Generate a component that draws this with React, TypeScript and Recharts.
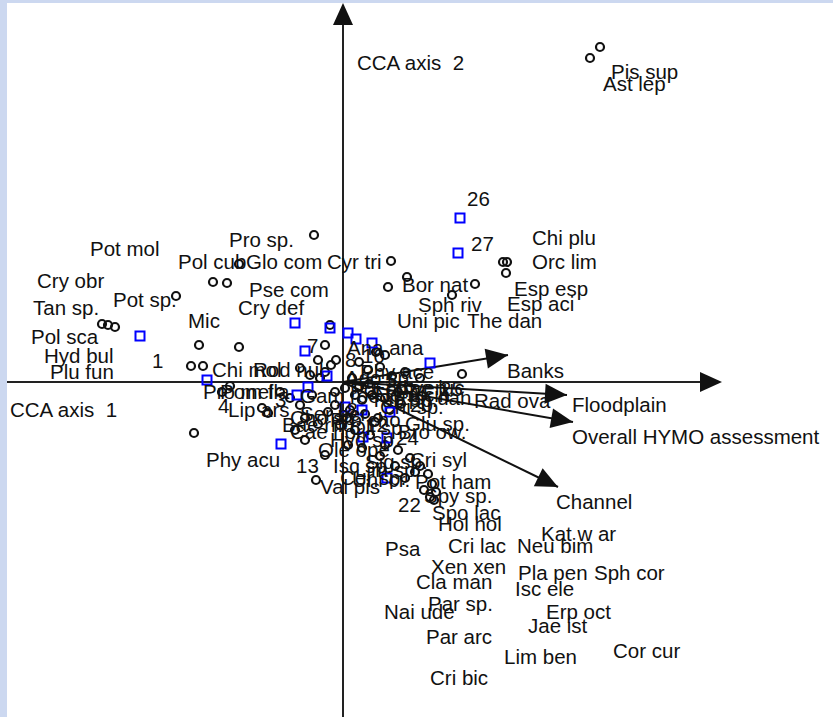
import React from "react";
import { ScatterChart, Scatter, XAxis, YAxis, ReferenceLine } from "recharts";

// Environmental variable arrows (CCA biplot scores)
const envNames = ["Banks", "Floodplain", "Overall HYMO assessment", "Channel"];
const envX = [1.65, 2.24, 2.3, 2.15];
const envY = [0.27, -0.13, -0.4, -1.05];
const envLabelX = [1.64, 2.29, 2.29, 2.13];
const envLabelY = [0.11, -0.23, -0.55, -1.2];

// Axis extents
const axis1 = { from: -3.36, to: 3.79 };
const axis2 = { from: -3.35, to: 3.79 };
const axisTitles = ["CCA axis  1", "CCA axis  2"];
const axisTitleX = [-3.33, 0.14];
const axisTitleY = [-0.28, 3.19];

// Species labels
const speciesNames = [
  "Pis sup", "Ast lep", "Chi plu", "Orc lim", "Esp esp", "Esp aci", "Bor nat", "Sph riv",
  "Uni pic", "The dan", "Pro sp.", "Pot mol", "Pol cub", "Glo com", "Cyr tri", "Cry obr",
  "Pse com", "Tan sp.", "Pot sp.", "Cry def", "Mic", "Pol sca", "Hyd bul", "Plu fun",
  "Chi mol", "Rod nul", "Pro mel", "Pom fla", "Lip ars", "Phy acu", "Val pis", "Psa",
  "Cri syl", "Pot ham", "Spy sp.", "Spo lac", "Hol hol", "Cri lac", "Neu bim", "Kat w ar",
  "Xen xen", "Pla pen", "Sph cor", "Cla man", "Isc ele", "Par sp.", "Nai ude", "Erp oct",
  "Jae ist", "Par arc", "Lim ben", "Cor cur", "Cri bic", "Rad ova", "Chi sp.", "Ana ana",
  "Phy ace", "Ole ope", "Isc sp.", "Glu sp.", "Bro ow.", "Pot ant", "Ecd ven", "Ser per",
  "Cae hor", "Bae rho", "Lim sp.", "Uni cr.", "Gam roe", "Eph dan", "Cho sp.", "Hyd sp.",
  "Ago sp.", "Nem cin", "Cae luc", "Pro cho", "Oli sp.", "Sig sp.", "Cer sp.", "Tub sp.",
];
const speciesLabelX = [
  2.68, 2.6, 1.89, 1.89, 1.71, 1.64, 0.59, 0.75,
  0.54, 1.24, -1.14, -2.53, -1.65, -0.97, -0.16, -3.06,
  -0.94, -3.1, -2.3, -1.05, -1.55, -3.12, -2.99, -2.93,
  -1.31, -0.9, -1.4, -1.23, -1.15, -1.37, -0.23, 0.42,
  0.67, 0.72, 0.81, 0.89, 0.95, 1.05, 1.74, 1.98,
  0.88, 1.75, 2.51, 0.73, 1.72, 0.85, 0.41, 2.03,
  1.85, 0.83, 1.61, 2.7, 0.87, 1.31, 0.37, 0.04,
  0.17, -0.25, -0.1, 0.62, 0.55, 0.07, 0.29, -0.43,
  -0.53, -0.61, 0.12, 0.09, -0.43, 0.52, -0.53, -0.13,
  0.02, 0.32, 0.52, -0.13, 0.07, 0.22, -0.03, 0.27,
];
const speciesLabelY = [
  3.1, 2.98, 1.44, 1.2, 0.93, 0.78, 0.97, 0.77,
  0.61, 0.61, 1.42, 1.33, 1.2, 1.2, 1.2, 1.01,
  0.92, 0.74, 0.82, 0.74, 0.61, 0.45, 0.26, 0.1,
  0.12, 0.12, -0.1, -0.1, -0.28, -0.78, -1.05, -1.67,
  -0.78, -1.0, -1.14, -1.31, -1.42, -1.64, -1.64, -1.52,
  -1.85, -1.91, -1.91, -2.0, -2.07, -2.22, -2.3, -2.3,
  -2.44, -2.55, -2.75, -2.69, -2.96, -0.19, -0.25, 0.34,
  0.1, -0.68, -0.84, -0.42, -0.5, -0.08, -0.06, -0.32,
  -0.5, -0.43, -0.88, -0.98, -0.14, -0.16, -0.36, -0.58,
  0.04, -0.13, -0.06, -0.38, -0.46, -0.8, -0.96, -0.18,
];

// Species points (open circles)
const speciesX = [
  2.47, 2.57, 1.6, 1.64, 1.63, 0.64, 0.45, 1.32, 1.09, 0.48, -0.29, -1.04, -1.3, -1.16,
  -1.67, -2.41, -2.35, -2.28, -1.44, -1.04, -1.52, -1.4, -1.49, -0.13, 1.19, -0.27,
  0.16, 0.33, 0.25, 0.37, 0.49, 0.62, 0.77, -0.08, 0.02, 0.12, 0.19, 0.29, 0.42, 0.55,
  0.67, 0.79, 0.07, 0.22, 0.35, 0.47, -0.03, 0.12, 0.27, 0.42, 0.55, 0.67, 0.77, 0.85,
  0.89, 0.93, 0.87, 0.72, 0.62, 0.52, 0.37, 0.19, 0.05, -0.63, -0.53, -0.43, -0.81,
  -0.75, -0.33, -0.23, -0.43, -0.25, -0.18, -1.13, -1.21, -0.48, -0.38, -0.18, -0.38,
  -0.25, -0.15, -0.31, -0.08, 0.09, -0.07, 0.42, -0.18, -0.12,
  0.32, 0.58, 0.04, 0.16, 0.26, 0.81, 0.91,
];
const speciesY = [
  3.24, 3.35, 1.2, 1.2, 1.09, 1.05, 0.95, 0.98, 0.87, 1.21, 1.47, 1.18, 1.0, 0.99,
  0.86, 0.58, 0.57, 0.55, 0.37, 0.35, 0.16, 0.16, -0.51, 0.57, 0.08, -0.98,
  0.2, 0.3, 0.12, 0.15, 0.06, 0.1, 0.04, -0.1, -0.06, -0.13, -0.18, -0.13, -0.16, -0.1,
  -0.06, -0.14, -0.28, -0.32, -0.36, -0.28, -0.43, -0.48, -0.53, -0.63, -0.68, -0.76, -0.84, -0.92,
  -1.02, -1.1, -1.15, -0.9, -0.96, -0.84, -0.74, -0.66, -0.63, -0.1, -0.16, -0.23, -0.26,
  -0.31, 0.07, 0.04, 0.14, 0.22, 0.1, -0.04, -0.1, -0.48, -0.58, -0.73, -0.36,
  -0.42, -0.3, -0.13, -0.23, 0.04, 0.22, 0.27, 0.37, 0.17,
  -0.4, -0.22, -0.36, -0.05, -0.02, -1.08, -1.18,
];

// Sites (open squares)
const siteX = [
  -2.03, -1.36, -0.48, -0.13, 0.05, 0.13, 0.29, -0.38, -0.16, -0.35, -0.46, -0.62,
  0.2, 0.02, 0.19, 0.87, 0.47, 0.44, 0.44, 1.17, 1.15,
];
const siteY = [
  0.46, 0.02, 0.59, 0.54, 0.49, 0.43, 0.39, 0.31, 0.06, -0.05, -0.13, -0.62,
  -0.55, -0.25, -0.28, 0.19, -0.3, -0.56, -0.96, 1.64, 1.29,
];
const siteLabels = ["1", "4", "7", "10", "13", "22", "24", "25", "26", "27", "3", "5", "8", "12", "18", "20"];
const siteLabelX = [-1.91, -1.25, -0.36, 0.19, -0.47, 0.55, 0.53, 0.97, 1.24, 1.28, -0.68, 0.42, 0.02, 0.22, -0.08, 0.67];
const siteLabelY = [0.21, -0.24, 0.36, 0.26, -0.84, -1.23, -0.56, -0.07, 1.83, 1.38, -0.18, 0.02, 0.22, -0.43, -0.28, -0.23];

const FONT = "'Liberation Sans', Arial, sans-serif";
const FS = 20.5;
const TXT = "#111111";

const speciesLabelData = speciesNames.map((n, i) => ({ name: n, x: speciesLabelX[i], y: speciesLabelY[i] }));
const speciesData = speciesX.map((x, i) => ({ x, y: speciesY[i] }));
const siteData = siteX.map((x, i) => ({ x, y: siteY[i] }));
const siteLabelData = siteLabels.map((n, i) => ({ name: n, x: siteLabelX[i], y: siteLabelY[i] }));
const envTipData = envNames.map((n, i) => ({ name: n, x: envX[i], y: envY[i] }));
const envLabelData = envNames.map((n, i) => ({ name: n, x: envLabelX[i], y: envLabelY[i] }));
const axisTipData = [
  { x: axis1.to, y: 0 },
  { x: 0, y: axis2.to },
];
const axisTitleData = axisTitles.map((n, i) => ({ name: n, x: axisTitleX[i], y: axisTitleY[i] }));

const TextShape = (props: any) => {
  const { cx, cy, payload } = props;
  return (
    <text x={cx} y={cy} dy="0.36em" textAnchor="start" fontFamily={FONT} fontSize={FS} fill={TXT} style={{ whiteSpace: "pre" }}>
      {payload.name}
    </text>
  );
};

const CircleShape = (props: any) => (
  <circle cx={props.cx} cy={props.cy} r={4} fill="none" stroke="#111" strokeWidth={2.2} />
);

const SquareShape = (props: any) => (
  <rect x={props.cx - 4.5} y={props.cy - 4.5} width={9} height={9} fill="none" stroke="#0000ff" strokeWidth={2} />
);

const ArrowHead = (props: any) => {
  const { cx, cy, payload } = props;
  const angle = (Math.atan2(-payload.y, payload.x) * 180) / Math.PI;
  return (
    <polygon
      points="0,0 -22,-10 -22,10"
      fill="#111"
      transform={`translate(${cx},${cy}) rotate(${angle})`}
    />
  );
};

export default function App() {
  return (
    <div style={{ position: "absolute", left: 0, top: 0, width: 833, height: 717, background: "#ccd8f0", overflow: "hidden" }}>
      <div style={{ position: "absolute", left: 7, top: 3, width: 826, height: 714, background: "#ffffff" }} />
      <div style={{ position: "absolute", left: 0, top: 0 }}>
        <ScatterChart width={833} height={717} margin={{ top: 0, right: 0, bottom: 0, left: 0 }}>
          <XAxis type="number" dataKey="x" domain={[-3.43, 4.9]} allowDataOverflow hide />
          <YAxis type="number" dataKey="y" domain={[-3.35, 3.82]} allowDataOverflow hide />
          <ReferenceLine segment={[{ x: axis1.from, y: 0 }, { x: axis1.to - 0.1, y: 0 }]} stroke="#222" strokeWidth={2} ifOverflow="visible" />
          <ReferenceLine segment={[{ x: 0, y: axis2.from }, { x: 0, y: axis2.to - 0.1 }]} stroke="#222" strokeWidth={2} ifOverflow="visible" />
          {envNames.map((n, i) => (
            <ReferenceLine
              key={n}
              segment={[{ x: 0, y: 0 }, { x: envX[i], y: envY[i] }]}
              stroke="#111"
              strokeWidth={2}
              ifOverflow="visible"
            />
          ))}
          <Scatter data={axisTipData} shape={ArrowHead} isAnimationActive={false} />
          <Scatter data={envTipData} shape={ArrowHead} isAnimationActive={false} />
          <Scatter data={speciesData} shape={CircleShape} isAnimationActive={false} />
          <Scatter data={siteData} shape={SquareShape} isAnimationActive={false} />
          <Scatter data={speciesLabelData} shape={TextShape} isAnimationActive={false} />
          <Scatter data={siteLabelData} shape={TextShape} isAnimationActive={false} />
          <Scatter data={envLabelData} shape={TextShape} isAnimationActive={false} />
          <Scatter data={axisTitleData} shape={TextShape} isAnimationActive={false} />
        </ScatterChart>
      </div>
    </div>
  );
}
